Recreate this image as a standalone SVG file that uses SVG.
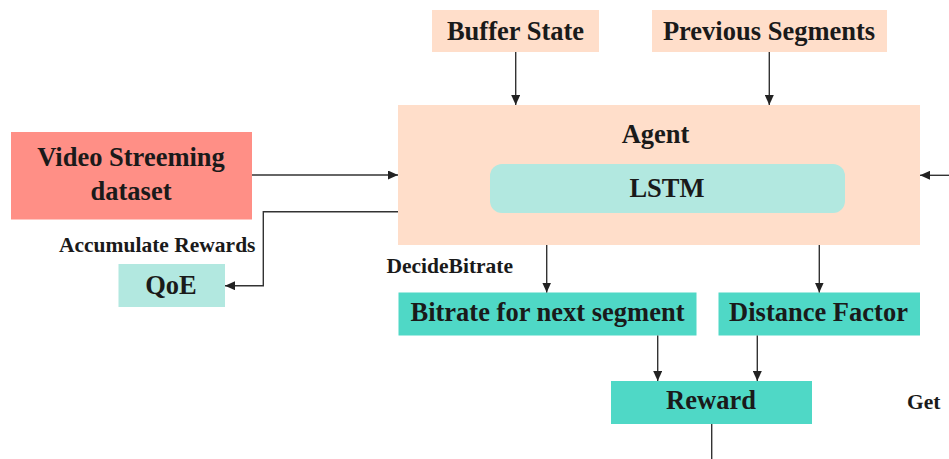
<svg xmlns="http://www.w3.org/2000/svg" width="949" height="459" viewBox="0 0 949 459">
<style>
text{font-family:"Liberation Serif","Times New Roman",serif;font-weight:bold;fill:#1a1a1a;}
.big{font-size:26.5px;text-anchor:middle;}
.sm{font-size:21.5px;}
.peach{fill:#FFDECA;}
.teal{fill:#4FD8C6;}
.mint{fill:#B2E8E0;}
.red{fill:#FF8F86;}
.ln{stroke:#333;stroke-width:1.4;fill:none;}
</style>
<defs>
<marker id="ah" markerUnits="userSpaceOnUse" markerWidth="10" markerHeight="9" refX="10" refY="4.5" orient="auto">
<path d="M0,0 L10,4.5 L0,9 z" fill="#222"/>
</marker>
</defs>
<g id="buffer"><rect class="peach" x="432" y="10" width="167" height="42"/><text class="big" x="515.5" y="40">Buffer State</text></g>
<g id="previous"><rect class="peach" x="652" y="10" width="235" height="42"/><text class="big" x="769" y="40">Previous Segments</text></g>
<g id="agent"><rect class="peach" x="398" y="105" width="522" height="140"/><text class="big" x="655.5" y="143">Agent</text></g>
<g id="lstm"><rect class="mint" x="490" y="164" width="355" height="49" rx="12"/><text class="big" x="667" y="197">LSTM</text></g>
<g id="video"><rect class="red" x="11" y="132" width="241" height="87.5"/><text class="big" x="131" y="166">Video Streeming</text><text class="big" x="131" y="200">dataset</text></g>
<g id="qoe"><rect class="mint" x="118.5" y="264" width="106.5" height="43"/><text class="big" x="171" y="294">QoE</text></g>
<g id="bitrate"><rect class="teal" x="398.5" y="292.5" width="298" height="43"/><text class="big" x="547.5" y="321">Bitrate for next segment</text></g>
<g id="distance"><rect class="teal" x="718.5" y="292.5" width="201.5" height="43"/><text class="big" x="818.5" y="321">Distance Factor</text></g>
<g id="reward"><rect class="teal" x="611" y="381" width="201" height="43"/><text class="big" x="711" y="409">Reward</text></g>
<g id="labels">
<text class="sm" x="59" y="252">Accumulate Rewards</text>
<text class="sm" x="386.5" y="273">DecideBitrate</text>
<text class="sm" x="907" y="409">Get</text>
</g>
<g id="connectors">
<line class="ln" x1="515.7" y1="52" x2="515.7" y2="105" marker-end="url(#ah)"/>
<line class="ln" x1="769.3" y1="52" x2="769.3" y2="105" marker-end="url(#ah)"/>
<line class="ln" x1="252" y1="175" x2="398" y2="175" marker-end="url(#ah)"/>
<line class="ln" x1="949" y1="175.3" x2="920" y2="175.3" marker-end="url(#ah)"/>
<polyline class="ln" points="398,211.7 263.3,211.7 263.3,285.7 225,285.7" marker-end="url(#ah)"/>
<line class="ln" x1="546.7" y1="245" x2="546.7" y2="292.5" marker-end="url(#ah)"/>
<line class="ln" x1="819.3" y1="245" x2="819.3" y2="292.5" marker-end="url(#ah)"/>
<line class="ln" x1="657.7" y1="335.5" x2="657.7" y2="381" marker-end="url(#ah)"/>
<line class="ln" x1="757.3" y1="335.5" x2="757.3" y2="381" marker-end="url(#ah)"/>
<line class="ln" x1="711.7" y1="424" x2="711.7" y2="459"/>
</g>
</svg>
